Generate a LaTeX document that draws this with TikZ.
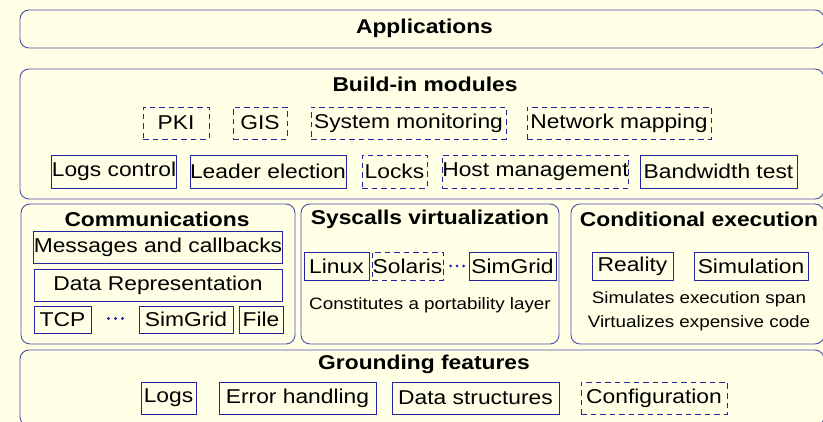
\documentclass[tikz,border=0pt]{standalone}
\usepackage{fontspec}
\setmainfont[FakeStretch=1.14]{Liberation Sans}
\usepackage{tikz}
\usetikzlibrary{positioning}
\definecolor{Navy}{HTML}{2424A0}
\definecolor{Frame}{HTML}{4E4EA8}
\definecolor{Paper}{HTML}{FFFFE6}
\tikzset{
  layer/.style={draw=Frame,rounded corners=9pt,line width=.9pt,inner sep=0pt},
  heading/.style={font=\fontsize{20}{22}\selectfont\bfseries,inner sep=0pt},
  box/.style={draw=Navy,line width=.9pt,inner sep=0pt,font=\fontsize{20}{22}\selectfont},
  maybe/.style={box,dash pattern=on 5.5pt off 4pt},
  remark/.style={font=\fontsize{16.5}{18}\selectfont,inner sep=0pt},
  etcdot/.style={fill=Navy}
}
\begin{document}
\begin{tikzpicture}[x=1pt,y=-1pt]
      \path[use as bounding box,fill=Paper] (0,0) rectangle (823,422);
      \clip (0,0) rectangle (823,422);
      \node[layer,minimum width=804,minimum height=38] (apps) at (422,29) {};
      \node[heading] (appstitle) at (424.5,28) {Applications};
      \node[layer,minimum width=804,minimum height=130] (modules) at (422,134) {};
      \node[heading] (modtitle) at (425,84) {Build-in modules};
      \node[maybe,minimum width=66,minimum height=32] (pki) at (176,123) {PKI};
      \node[maybe,minimum width=54,minimum height=32] (gis) at (260,123) {GIS};
      \node[maybe,minimum width=195,minimum height=32] (sysmon) at (408.5,123) {System monitoring};
      \node[maybe,minimum width=184,minimum height=32] (netmap) at (619,123) {Network mapping};
      \node[box,minimum width=124,minimum height=33] (logctl) at (114,171.5) {Logs control};
      \node[box,minimum width=152,minimum height=33] (leader) at (268,171.5) {Leader election};
      \node[maybe,minimum width=65,minimum height=33] (locks) at (394.5,171.5) {Locks};
      \node[maybe,minimum width=179,minimum height=33] (hostmgt) at (535.5,171.5) {Host management};
      \node[box,minimum width=157,minimum height=33] (bwtest) at (718.5,171.5) {Bandwidth test};
      \node[layer,minimum width=274,minimum height=140] (comm) at (158,274) {};
      \node[heading] (commtitle) at (157,219) {Communications};
      \node[box,minimum width=248,minimum height=32] (msgcb) at (158,247) {Messages and callbacks};
      \node[box,minimum width=248,minimum height=32] (datarep) at (158,285) {Data Representation};
      \node[box,minimum width=57,minimum height=27] (tcp) at (62.5,319.5) {TCP};
      \coordinate (commdots) at (108.5,318.5);
      \foreach \dx in {0,7,14} \fill[etcdot] ([xshift=\dx pt]commdots) circle (1.6pt);
      \node[box,minimum width=94,minimum height=27] (sgcomm) at (186,319.5) {SimGrid};
      \node[box,minimum width=44,minimum height=27] (file) at (261,319.5) {File};
      \node[layer,minimum width=258,minimum height=140] (syscalls) at (430,274) {};
      \node[heading] (systitle) at (430,219) {Syscalls virtualization};
      \node[box,minimum width=65,minimum height=28] (linux) at (336.5,266) {Linux};
      \node[maybe,minimum width=71,minimum height=28] (solaris) at (407.5,266) {Solaris};
      \coordinate (sysdots) at (450.5,266);
      \foreach \dx in {0,6.5,13} \fill[etcdot] ([xshift=\dx pt]sysdots) circle (1.5pt);
      \node[box,minimum width=87,minimum height=28] (sgsys) at (512.5,266) {SimGrid};
      \node[remark] (porta) at (430,305) {Constitutes a portability layer};
      \node[layer,minimum width=253,minimum height=140] (condexec) at (697.5,274) {};
      \node[heading] (condtitle) at (699,219) {Conditional execution};
      \node[box,minimum width=81,minimum height=28] (reality) at (632.5,266) {Reality};
      \node[box,minimum width=114,minimum height=28] (simulation) at (751,266) {Simulation};
      \node[remark] (span) at (699,299) {Simulates execution span};
      \node[remark] (virt) at (699,323) {Virtualizes expensive code};
      \node[layer,minimum width=804,minimum height=76] (grounding) at (422,388) {};
      \node[heading] (groundtitle) at (424,364) {Grounding features};
      \node[box,minimum width=55,minimum height=32] (logs) at (168.5,398) {Logs};
      \node[box,minimum width=157,minimum height=32] (errors) at (297.5,398) {Error handling};
      \node[box,minimum width=167,minimum height=32] (datastruct) at (475.5,398) {Data structures};
      \node[maybe,minimum width=146,minimum height=32] (config) at (654,398) {Configuration};
    \end{tikzpicture}
\end{document}
